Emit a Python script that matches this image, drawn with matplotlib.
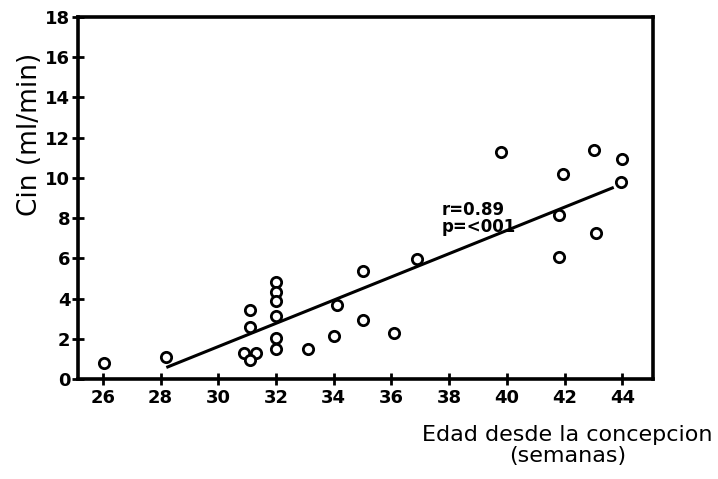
import matplotlib
matplotlib.use("Agg")
import matplotlib.pyplot as plt

# edad (semanas) vs Cin (ml/min)
edad = [26.05, 28.2, 31.1, 31.1, 30.9, 31.3, 31.1,
        32.0, 32.0, 32.0, 32.0, 32.0, 32.0,
        33.1, 34.0, 34.1, 35.0, 35.0, 36.1, 36.9,
        39.8, 41.95, 41.8, 41.8, 43.0, 43.1, 44.0, 43.95]
cin = [0.8, 1.1, 3.45, 2.6, 1.3, 1.3, 0.95,
       4.8, 4.35, 3.9, 3.15, 2.05, 1.5,
       1.5, 2.15, 3.7, 5.35, 2.95, 2.3, 5.95,
       11.3, 10.2, 8.15, 6.05, 11.4, 7.25, 10.95, 9.8]

# regression line end points
fit_x = [28.25, 43.65]
fit_y = [0.6, 9.5]

x_ticks = [26, 28, 30, 32, 34, 36, 38, 40, 42, 44]
y_ticks = [0, 2, 4, 6, 8, 10, 12, 14, 16, 18]

fig = plt.figure(figsize=(7.18, 4.79), dpi=100)
ax = fig.add_axes([0.1086, 0.2088, 0.8009, 0.7557])

ax.scatter(edad, cin, s=55, facecolors="white", edgecolors="black", linewidths=2, zorder=3)
ax.plot(fit_x, fit_y, color="black", linewidth=2.2, zorder=2)

ax.text(37.75, 7.1, "r=0.89\np=<001", fontsize=12, fontweight="bold",
        linespacing=0.95, va="bottom")

ax.set_xlim(25.14, 45.06)
ax.set_ylim(0, 18)
ax.set_xticks(x_ticks)
ax.set_yticks(y_ticks)
ax.tick_params(direction="inout", length=9, width=2, labelsize=13, pad=3)
ax.tick_params(axis="y", pad=1)
for lbl in ax.get_xticklabels() + ax.get_yticklabels():
    lbl.set_fontweight("bold")
for side in ["left", "right", "top", "bottom"]:
    ax.spines[side].set_linewidth(2.6)

fig.text(0.042, 0.72, "Cin (ml/min)", rotation=90, ha="center", va="center", fontsize=19)
fig.text(0.79, 0.07, "Edad desde la concepcion\n(semanas)", ha="center", va="center",
         fontsize=16, linespacing=1.1)

fig.savefig("out.png", dpi=100)
